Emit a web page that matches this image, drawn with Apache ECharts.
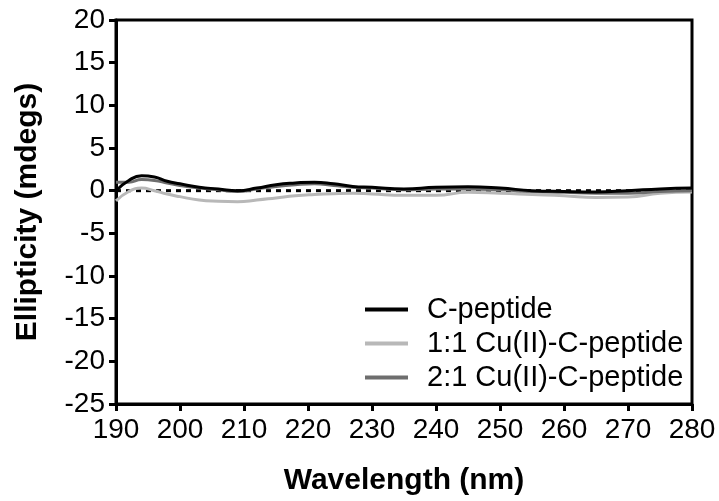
<!DOCTYPE html>
<html><head><meta charset="utf-8">
<script src="https://cdn.jsdelivr.net/npm/echarts@6/dist/echarts.min.js"></script>
<style>html,body{margin:0;padding:0;background:#fff}#c{width:719px;height:501px}</style>
</head><body><div id="c"></div>
<script>
const wavelengths = [190,192,194,196,198,200,203,206,209,212,215,218,221,224,227,230,235,240,245,250,255,260,265,270,275,280];
const cPeptide   = [0.0,1.2,1.75,1.6,1.1,0.8,0.4,0.2,0.0,0.3,0.7,0.9,1.0,0.8,0.5,0.4,0.2,0.4,0.45,0.3,0.0,-0.1,-0.15,0.0,0.2,0.3];
const cu11       = [-1.2,-0.1,0.3,0.0,-0.4,-0.7,-1.1,-1.25,-1.3,-1.1,-0.85,-0.6,-0.45,-0.35,-0.3,-0.4,-0.55,-0.55,-0.2,-0.3,-0.45,-0.6,-0.8,-0.75,-0.3,-0.15];
const cu21       = [1.0,1.0,1.3,1.2,0.9,0.6,0.3,0.1,-0.1,0.2,0.5,0.7,0.8,0.6,0.4,0.3,0.1,0.2,0.2,0.1,-0.1,-0.2,-0.3,-0.3,-0.1,0.0];
const baseline = [[190,0],[280,0]];
const seriesNames = ['C-peptide','1:1 Cu(II)-C-peptide','2:1 Cu(II)-C-peptide'];
const xTicks = {min:190,max:280,interval:10};
const yTicks = {min:-25,max:20,interval:5};

const pair = arr => wavelengths.map((w,i)=>[w,arr[i]]);
const font = '"Liberation Sans", Arial, sans-serif';
const chart = echarts.init(document.getElementById('c'));
chart.setOption({
  animation:false,
  grid:{left:116,right:27,top:20,bottom:97,show:true,borderColor:'#000',borderWidth:3,backgroundColor:'transparent'},
  legend:{
    data:seriesNames, orient:'vertical', left:360, top:290, itemWidth:43, itemHeight:4, itemGap:5,
    icon:'rect',
    textStyle:{fontFamily:font,fontSize:29,color:'#000',padding:[0,0,0,14]}
  },
  xAxis:{type:'value',min:xTicks.min,max:xTicks.max,interval:xTicks.interval,
    name:'Wavelength (nm)',nameLocation:'middle',nameGap:62,
    nameTextStyle:{fontFamily:font,fontSize:30,fontWeight:'bold',color:'#000'},
    axisLine:{onZero:false,lineStyle:{color:'#000',width:3}},
    axisTick:{length:7,lineStyle:{color:'#000',width:3}},
    axisLabel:{fontFamily:font,fontSize:28,color:'#000',margin:12},
    splitLine:{show:false}},
  yAxis:{type:'value',min:yTicks.min,max:yTicks.max,interval:yTicks.interval,
    name:'Ellipticity (mdegs)',nameLocation:'middle',nameGap:73,
    nameTextStyle:{fontFamily:font,fontSize:30,fontWeight:'bold',color:'#000'},
    axisLine:{onZero:false,lineStyle:{color:'#000',width:3}},
    axisTick:{length:7,lineStyle:{color:'#000',width:3}},
    axisLabel:{fontFamily:font,fontSize:28,color:'#000',margin:11},
    splitLine:{show:false}},
  series:[
    {name:'baseline',type:'line',data:baseline,symbol:'none',silent:true,
      lineStyle:{color:'#000',width:3,type:[5,5]}},
    {name:seriesNames[1],type:'line',data:pair(cu11),smooth:true,symbol:'none',
      itemStyle:{color:'#b8b8b8'},lineStyle:{color:'#b8b8b8',width:3}},
    {name:seriesNames[2],type:'line',data:pair(cu21),smooth:true,symbol:'none',
      itemStyle:{color:'#6e6e6e'},lineStyle:{color:'#6e6e6e',width:3}},
    {name:seriesNames[0],type:'line',data:pair(cPeptide),smooth:true,symbol:'none',
      itemStyle:{color:'#000'},lineStyle:{color:'#000',width:3}}
  ]
});
</script></body></html>
